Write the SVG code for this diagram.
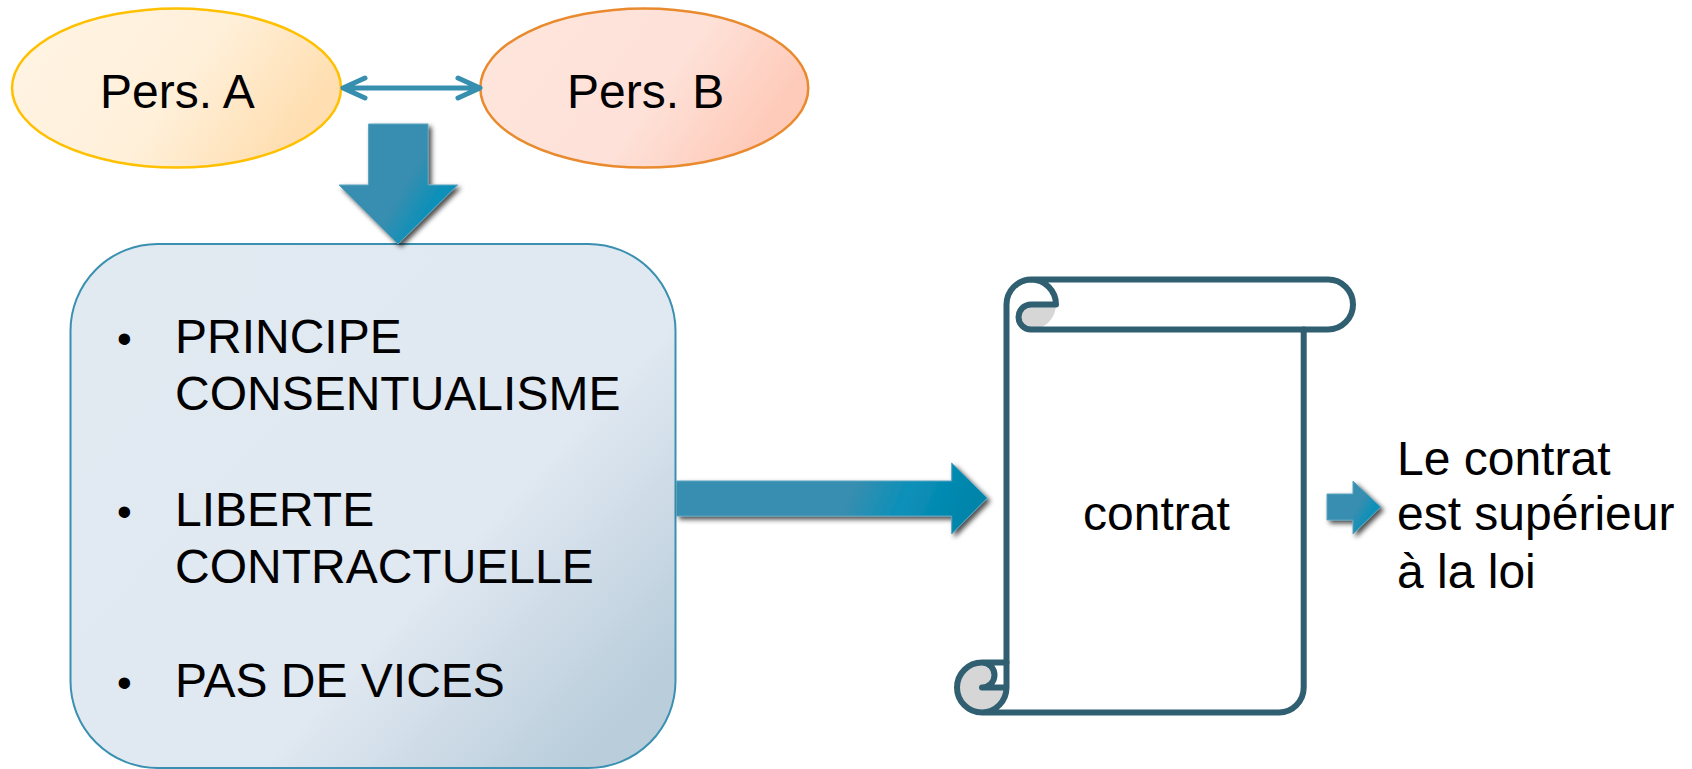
<svg xmlns="http://www.w3.org/2000/svg" width="1692" height="769" viewBox="0 0 1692 769">
<style>
text{font-family:"Liberation Sans",Arial,sans-serif;font-size:48px;fill:#000}
.bul{font-size:42px}
.blk{fill:url(#gArrow);stroke:#5aa3bf;stroke-width:1;filter:url(#sh)}
.scroll{fill:none;stroke:#2f5f70;stroke-width:6;stroke-linejoin:round;stroke-linecap:round}
</style>
<defs>
<linearGradient id="gA" x1="0" y1="0" x2="1" y2="0.35"><stop offset="0" stop-color="#fff4e4"/><stop offset="0.6" stop-color="#fff0da"/><stop offset="1" stop-color="#ffdfb2"/></linearGradient>
<linearGradient id="gB" x1="0" y1="0" x2="1" y2="0.35"><stop offset="0" stop-color="#fee6dd"/><stop offset="0.65" stop-color="#fee1d8"/><stop offset="1" stop-color="#fecbba"/></linearGradient>
<linearGradient id="gBox" x1="0" y1="0" x2="1" y2="0.8"><stop offset="0" stop-color="#e1e9f1"/><stop offset="0.68" stop-color="#e0e8f1"/><stop offset="1" stop-color="#b9cddb"/></linearGradient>
<linearGradient id="gArrow" x1="0" y1="0" x2="1" y2="0.1"><stop offset="0" stop-color="#378eb0"/><stop offset="0.6" stop-color="#378eb0"/><stop offset="0.78" stop-color="#0a90b9"/><stop offset="1" stop-color="#0084aa"/></linearGradient>
<linearGradient id="gDown" x1="0" y1="0.2" x2="1" y2="0.8"><stop offset="0" stop-color="#378eb0"/><stop offset="0.55" stop-color="#378eb0"/><stop offset="0.8" stop-color="#0a90b9"/><stop offset="1" stop-color="#0a8cb3"/></linearGradient>
<filter id="sh" x="-20%" y="-20%" width="140%" height="140%"><feDropShadow dx="3" dy="3" stdDeviation="2.500" flood-color="#000" flood-opacity="0.7"/></filter>
</defs>
<g id="node-a"><ellipse cx="176.500" cy="88" rx="164.500" ry="79.500" fill="url(#gA)" stroke="#ffc000" stroke-width="2.500"/><text x="100" y="107.500">Pers. A</text></g>
<g id="node-b"><ellipse cx="644.300" cy="88" rx="164" ry="79.500" fill="url(#gB)" stroke="#e98a2e" stroke-width="2.500"/><text x="567" y="107.500">Pers. B</text></g>
<g id="node-principes">
<rect x="70.500" y="244" width="605" height="524" rx="87" fill="url(#gBox)" stroke="#3a90b0" stroke-width="2"/>
<text class="bul" x="117" y="353">•</text><text x="175" y="353">PRINCIPE</text>
<text x="175" y="410">CONSENTUALISME</text>
<text class="bul" x="117" y="526">•</text><text x="175" y="526">LIBERTE</text>
<text x="175" y="583">CONTRACTUELLE</text>
<text class="bul" x="117" y="697">•</text><text x="175" y="697">PAS DE VICES</text>
</g>
<g id="node-contrat">
<path d="M982 662.500A25 25 0 1 0 982 712.500A25 25 0 0 0 1006.500 687.500V662.500Z" fill="#d6d6d6"/>
<path d="M982 662.500H1006.500V687.500H982A12.500 12.500 0 0 0 982 662.500Z" fill="#fff"/>
<path d="M1056 304.500H1031A12.500 12.500 0 0 0 1031 329.500A25 25 0 0 0 1056 304.500Z" fill="#d6d6d6"/>
<path class="scroll" d="M1006.500 662.500V304.500A25 25 0 0 1 1031 279.500H1328A25 25 0 0 1 1328 329.500H1031A12.500 12.500 0 0 1 1031 304.500H1056A25 25 0 0 0 1031 279.500"/>
<path class="scroll" d="M1303.700 329.500V687.500A25 25 0 0 1 1279 712.500H982A25 25 0 0 1 982 662.500A12.500 12.500 0 0 1 982 687.500H1006.500M982 662.500H1006.500V687.500A25 25 0 0 1 982 712.500"/>
<text x="1083" y="530">contrat</text>
</g>
<g id="node-conclusion"><text x="1397" y="475">Le contrat</text><text x="1397" y="530">est supérieur</text><text x="1397" y="588">à la loi</text></g>
<g id="connectors">
<path d="M344 88H477M365 78L343 88L365 98M458 78L480 88L458 98" fill="none" stroke="#378fb0" stroke-width="5" stroke-linejoin="round" stroke-linecap="round"/>
<path d="M368.600 124H428V185H457.600L398 244L339 185H368.600Z" fill="url(#gDown)" stroke="#5aa3bf" stroke-width="1" filter="url(#sh)"/>
<path class="blk" d="M676.500 481H951.700V463L987.300 498L951.700 534V516H676.500Z"/>
<path d="M1327 494H1353V481L1380.700 507L1353 534V520H1327Z" fill="url(#gDown)" stroke="#5aa3bf" stroke-width="1" filter="url(#sh)"/>
</g>
</svg>
